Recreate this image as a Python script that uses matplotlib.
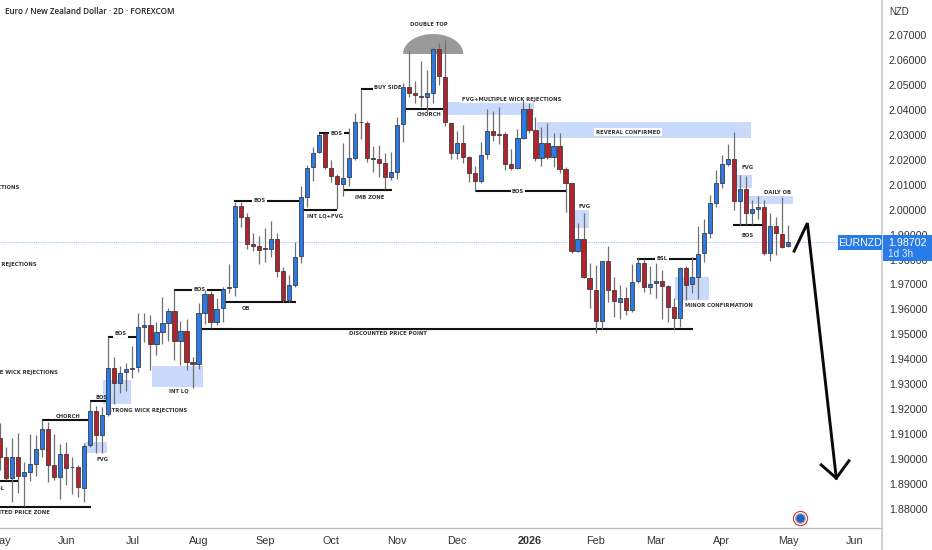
import numpy as np
import matplotlib
matplotlib.use("Agg")
import matplotlib.pyplot as plt
from matplotlib.patches import Rectangle, Polygon

# 2D candles, one per session
opens = [1.9086,1.9007,1.8924,1.9007,1.8932,1.8948,1.8980,1.9039,1.9120,1.8975,1.8927,1.9022,1.8969,1.8967,1.8886,
         1.9055,1.9192,1.9095,1.9181,1.9367,1.9307,1.9348,1.9363,1.9368,1.9531,1.9538,1.9462,1.9511,1.9547,1.9594,
         1.9472,1.9512,1.9388,1.9383,1.9587,1.9661,1.9551,1.9604,1.9687,1.9691,2.0013,1.9970,1.9861,1.9854,1.9845,
         1.9841,1.9881,1.9753,1.9638,1.9699,1.9814,2.0052,2.0169,2.0230,2.0302,2.0168,2.0133,2.0101,2.0130,2.0207,
         2.0353,2.0349,2.0206,2.0205,2.0186,2.0132,2.0152,2.0342,2.0493,2.0467,2.0455,2.0453,2.0469,2.0645,2.0533,
         2.0346,2.0226,2.0266,2.0210,2.0146,2.0113,2.0223,2.0315,2.0302,2.0302,2.0183,2.0167,2.0287,2.0403,2.0318,
         2.0207,2.0266,2.0212,2.0255,2.0163,2.0105,1.9834,1.9884,1.9727,1.9678,1.9555,1.9793,1.9677,1.9631,1.9646,
         1.9598,1.9713,1.9785,1.9689,1.9705,1.9715,1.9693,1.9608,1.9564,1.9767,1.9701,1.9731,1.9825,1.9908,2.0028,
         2.0108,2.0184,2.0204,2.0033,2.0081,1.9985,2.0001,2.0009,1.9828,1.9934,1.9902,1.9853]
closes = [1.9007,1.8924,1.9007,1.8932,1.8947,1.8979,1.9039,1.9120,1.8978,1.8927,1.9022,1.8965,1.8967,1.8887,1.9054,
          1.9192,1.9095,1.9178,1.9367,1.9307,1.9345,1.9360,1.9365,1.9528,1.9539,1.9462,1.9510,1.9546,1.9594,1.9474,
          1.9512,1.9391,1.9381,1.9584,1.9661,1.9551,1.9602,1.9682,1.9690,2.0013,1.9972,1.9862,1.9856,1.9838,1.9844,
          1.9881,1.9755,1.9638,1.9697,1.9811,2.0049,2.0167,2.0227,2.0300,2.0169,2.0135,2.0101,2.0125,2.0206,2.0350,
          2.0351,2.0206,2.0205,2.0188,2.0132,2.0150,2.0341,2.0493,2.0469,2.0458,2.0453,2.0466,2.0645,2.0536,2.0351,
          2.0226,2.0266,2.0212,2.0148,2.0113,2.0220,2.0315,2.0299,2.0299,2.0184,2.0167,2.0286,2.0403,2.0319,2.0207,
          2.0266,2.0212,2.0255,2.0164,2.0108,1.9834,1.9884,1.9729,1.9681,1.9555,1.9793,1.9678,1.9633,1.9645,1.9598,
          1.9711,1.9785,1.9689,1.9703,1.9715,1.9695,1.9610,1.9564,1.9767,1.9699,1.9729,1.9822,1.9905,2.0027,2.0106,
          2.0183,2.0204,2.0035,2.0081,1.9985,2.0001,2.0009,1.9828,1.9934,1.9905,1.9852,1.9870]
highs = [1.9144,1.9050,1.9086,1.9106,1.8989,1.9101,1.9097,1.9157,1.9150,1.9101,1.9059,1.9067,1.9007,1.8977,1.9063,
         1.9234,1.9213,1.9208,1.9491,1.9411,1.9373,1.9384,1.9454,1.9587,1.9584,1.9578,1.9551,1.9648,1.9604,1.9678,
         1.9555,1.9560,1.9408,1.9624,1.9678,1.9675,1.9645,1.9691,1.9782,2.0032,2.0032,1.9985,1.9905,1.9894,1.9925,
         1.9956,1.9905,1.9772,1.9738,1.9872,2.0095,2.0179,2.0252,2.0309,2.0306,2.0199,2.0143,2.0268,2.0326,2.0386,
         2.0480,2.0357,2.0255,2.0259,2.0226,2.0232,2.0373,2.0506,2.0640,2.0517,2.0597,2.0560,2.0648,2.0667,2.0680,
         2.0349,2.0317,2.0338,2.0215,2.0175,2.0272,2.0402,2.0397,2.0413,2.0313,2.0242,2.0322,2.0439,2.0429,2.0370,
         2.0330,2.0349,2.0306,2.0306,2.0172,2.0108,1.9945,1.9985,1.9788,1.9778,1.9795,1.9854,1.9731,1.9698,1.9689,
         1.9782,1.9809,1.9801,1.9774,1.9788,1.9758,1.9698,1.9644,1.9771,1.9774,1.9812,1.9934,1.9961,2.0059,2.0159,
         2.0219,2.0263,2.0311,2.0139,2.0135,2.0039,2.0055,2.0039,1.9988,1.9972,2.0052,1.9937]
lows = [1.8957,1.8916,1.8830,1.8863,1.8812,1.8912,1.8932,1.9010,1.8910,1.8916,1.8842,1.8896,1.8860,1.8847,1.8830,
        1.9050,1.9026,1.9026,1.9173,1.9220,1.9264,1.9274,1.9327,1.9349,1.9471,1.9357,1.9417,1.9462,1.9474,1.9397,
        1.9377,1.9357,1.9284,1.9360,1.9542,1.9524,1.9538,1.9551,1.9665,1.9654,1.9932,1.9841,1.9836,1.9782,1.9791,
        1.9811,1.9731,1.9631,1.9631,1.9689,1.9787,2.0012,2.0116,2.0228,2.0162,2.0112,2.0001,2.0055,2.0095,2.0199,
        2.0282,2.0192,2.0152,2.0129,2.0081,2.0119,2.0121,2.0272,2.0453,2.0429,2.0410,2.0389,2.0429,2.0500,2.0335,
        2.0204,2.0202,2.0186,2.0112,2.0076,2.0105,2.0204,2.0274,2.0263,2.0159,2.0159,2.0162,2.0282,2.0309,2.0196,
        2.0175,2.0204,2.0172,2.0146,1.9992,1.9828,1.9832,1.9725,1.9604,1.9504,1.9520,1.9631,1.9568,1.9560,1.9578,
        1.9591,1.9705,1.9671,1.9662,1.9645,1.9560,1.9551,1.9518,1.9531,1.9638,1.9665,1.9641,1.9790,1.9885,2.0009,
        2.0085,2.0175,1.9999,1.9938,1.9942,1.9942,1.9961,1.9818,1.9796,1.9818,1.9845,1.9849]

# candle colours as read, because a few dojis have open == close or close to it
up = [0,0,1,0,1,1,1,1,0,0,1,0,0,0,1,1,0,1,1,0,1,1,1,1,1,0,1,1,1,0,1,0,0,1,1,0,1,1,1,1,0,0,0,0,0,1,0,0,1,1,1,1,1,1,0,0,0,1,1,1,
      0,0,0,0,0,1,1,1,0,0,0,1,1,0,0,0,1,0,0,0,1,1,0,0,0,0,1,1,0,0,1,0,1,0,0,0,1,0,0,0,1,0,0,1,0,1,1,0,1,1,0,0,0,1,0,1,1,1,1,1,
      1,1,0,1,0,1,1,0,1,0,0,1]

last_price = 1.98702
price_ticks = [1.88,1.89,1.90,1.91,1.92,1.93,1.94,1.95,1.96,1.97,1.98,1.99,2.00,2.01,2.02,2.03,2.04,2.05,2.06,2.07]
month_pos = [0,11,22,33,44,55,66,76,88,99,109,120,131,142]
month_labels = ["May","Jun","Jul","Aug","Sep","Oct","Nov","Dec","2026","Feb","Mar","Apr","May","Jun"]

# drawn levels: start, end, price
levels = [(0,15.1,1.8808),(0,3.2,1.8914),(7,14.6,1.9157),(15,17.6,1.9234),(18,22.8,1.9490),(29,37,1.9678),
          (33.4,115.2,1.9520),(37.4,49.2,1.9628),(38.9,49.7,2.0035),(50.4,56,1.9999),(57,65.2,2.0080),(53,58.2,2.0307),
          (60,67,2.0484),(67.3,73.6,2.0403),(79,94,2.0076),(105.9,115.7,1.9803),(121.9,126.9,1.9938)]
# shaded zones: start, end, top, bottom
zones = [(74.3,88.8,2.0431,2.0379),(89.2,124.9,2.0353,2.0287),(95.4,97.9,1.9999,1.9926),(112.2,117.9,1.9730,1.9638),
         (14.1,17.8,1.9069,1.9025),(17.1,21.8,1.9317,1.9221),(25.3,33.7,1.9373,1.9289),(122.5,125,2.0139,2.0087),
         (124.5,131.8,2.0055,2.0023)]
# text, x, price, align, white box behind
notes = [("DISCOUNTED PRICE ZONE",8.3,1.8788,"right",False),("BSL",0.85,1.8884,"right",False),
         ("CHORCH",11.25,1.9169,"center",False),("BOS",16.8,1.9249,"center",False),("BOS",20.1,1.9502,"center",True),
         ("BOS",33.1,1.9678,"center",True),("DISCOUNTED PRICE POINT",64.5,1.9505,"center",False),
         ("OB",40.9,1.9602,"center",False),("BOS",43.1,2.0035,"center",True),("INT LQ+FVG",54,1.9975,"center",False),
         ("IMB ZONE",61.5,2.0047,"center",False),("BOS",56,2.0307,"center",True),("BUY SIDE",64.5,2.0488,"center",True),
         ("CHORCH",71.3,2.0383,"center",False),("DOUBLE TOP",71.2,2.0744,"center",False),
         ("FVG+MULTIPLE WICK REJECTIONS",85.1,2.0443,"center",True),("REVERAL CONFIRMED",104.4,2.0311,"center",True),
         ("BOS",86.1,2.0071,"center",True),("FVG",97.1,2.0011,"center",False),("BSL",110.1,1.9806,"center",True),
         ("MINOR CONFIRMATION",119.5,1.9614,"center",False),("FVG",17.1,1.8999,"center",False),
         ("STRONG WICK REJECTIONS",24.6,1.9193,"center",False),("INT LQ",29.8,1.9273,"center",False),
         ("MULTIPLE WICK REJECTIONS",9.6,1.9349,"right",False),("WICK REJECTIONS",6.15,1.9782,"right",False),
         ("REJECTIONS",3.2,2.0087,"right",False),("FVG",124.2,2.0167,"center",False),
         ("DAILY OB",129.3,2.0067,"center",False),("BOS",124.2,1.9898,"center",False)]
arrow_x = [132,134.2,139]
arrow_y = [1.9834,1.9946,1.8924]
head_x = [136.5,139,141.1]
head_y = [1.8977,1.8924,1.8993]

BLUE = "#2a7bea"
RED = "#b2222f"
plt.rcParams['font.family'] = ['Liberation Sans', 'DejaVu Sans']

W, H = 932, 550
fig = plt.figure(figsize=(W/100, H/100), dpi=100)
ax = fig.add_axes([0, 22/H, 882/W, 528/H])
ax.set_xlim(0, 146.6)
ax.set_ylim(1.8724, 2.08403)

x = np.arange(len(opens))
opens = np.array(opens)
closes = np.array(closes)
colors = [BLUE if u else RED for u in up]

for x0, x1, top, bottom in zones:
    ax.fill_between([x0, x1], bottom, top, color="#cadafc", lw=0, zorder=1)

# double top dome
t = np.linspace(0, np.pi, 60)
dome = np.column_stack([72 + 5*np.cos(t), 2.0624 + 0.0080*np.sin(t)])
ax.add_patch(Polygon(dome, closed=True, color="#9a9a9a", lw=0, zorder=1))

ax.axhline(last_price, color="#2a7bea", lw=0.8, ls=(0, (1, 1)), alpha=0.45, zorder=1)

for x0, x1, y in levels:
    ax.plot([x0, x1], [y, y], color="#111111", lw=1.5, solid_capstyle="butt", zorder=2)

for label, nx, ny, ha, boxed in notes:
    box = dict(fc="white", ec="none", pad=1.0) if boxed else None
    ax.text(nx, ny, label, ha=ha, va="center", fontsize=3.8, fontweight="bold", family="DejaVu Sans",
            color="#333333", bbox=box, zorder=2.5)

ax.vlines(x, lows, highs, color="#707070", lw=0.9, zorder=3)
ax.bar(x, closes-opens, bottom=opens, width=0.7, color=colors, edgecolor="#3d3d3d", linewidth=0.6, zorder=4)

ax.plot(arrow_x, arrow_y, color="#0a0a0a", lw=2.1, solid_joinstyle="miter", zorder=5)
ax.plot(head_x, head_y, color="#0a0a0a", lw=2.1, solid_joinstyle="miter", zorder=5)

# flag badge
ax.plot([133], [1.8764], "o", ms=10.2, mfc="white", mec="#d4343c", mew=0.8, zorder=5)
ax.plot([133], [1.8764], "o", ms=6.8, mfc="#2460bd", mec="#9aa4b8", mew=0.9, zorder=6)

for side in ["top", "left"]:
    ax.spines[side].set_visible(False)
ax.spines["bottom"].set_color("#bdbdbd")
ax.spines["bottom"].set_linewidth(1.0)
ax.spines["right"].set_visible(False)

ax.yaxis.tick_right()
ax.set_yticks(price_ticks)
ax.set_yticklabels(["%.5f" % p for p in price_ticks], fontsize=7.7, color="#333333")
ax.tick_params(axis="y", length=0, pad=5)
ax.set_xticks(month_pos)
ax.set_xticklabels(month_labels, fontsize=7.8, color="#333333")
ax.tick_params(axis="x", length=0, pad=6)
for lab in ax.get_xticklabels():
    if lab.get_text() == "2026":
        lab.set_fontweight("bold")

# right hand scale line, goes all the way down
fig.add_artist(plt.Line2D([882/W, 882/W], [0, 1], color="#c9c9c9", lw=1.2))

def box(px0, py0, px1, py1):
    return Rectangle((px0/W, 1-py1/H), (px1-px0)/W, (py1-py0)/H, transform=fig.transFigure, fc=BLUE, ec="none", zorder=2)

fig.add_artist(box(838, 235, 882, 250))
fig.add_artist(box(882.5, 235, 932, 261))
fig.text(860/W, 1-242.5/H, "EURNZD", color="white", fontsize=7.6, ha="center", va="center", zorder=3)
fig.text(907/W, 1-242.5/H, "1.98702", color="white", fontsize=7.7, ha="center", va="center", zorder=3)
fig.text(901/W, 1-254/H, "1d 3h", color="#e4edfd", fontsize=7.2, ha="center", va="center", zorder=3)
fig.text(899/W, 1-12/H, "NZD", color="#333333", fontsize=7, ha="center", va="center")
fig.text(5/W, 1-11/H, "Euro / New Zealand Dollar \u00b7 2D \u00b7 FOREXCOM", color="#222222", fontsize=5.9,
         fontweight="semibold", family="Open Sans", ha="left", va="center")

fig.savefig("out.png", dpi=100)
